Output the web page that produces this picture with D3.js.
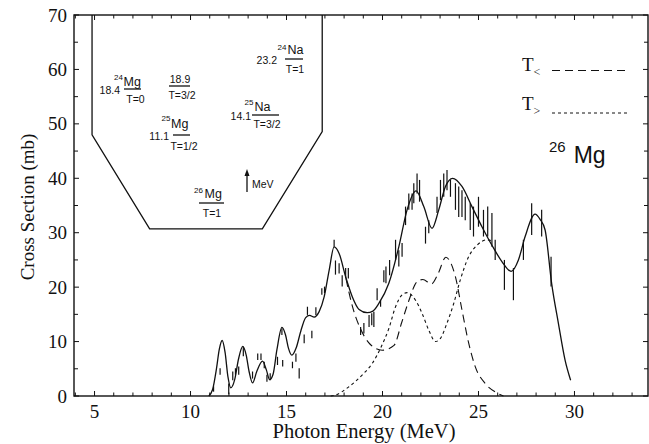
<!DOCTYPE html>
<html><head><meta charset="utf-8">
<script src="https://cdn.jsdelivr.net/npm/d3@7"></script>
<style>body{margin:0;background:#fff}svg{display:block}</style>
</head><body>
<script>
// ---------- data ----------
const xTicks = [5,10,15,20,25,30];
const yTicks = [0,10,20,30,40,50,60,70];
const xTitle = "Photon Energy (MeV)";
const yTitle = "Cross Section (mb)";

// total fit (solid)  [energy MeV, sigma mb]
const fitTotal = [[10.95,0],[11.15,1.2],[11.35,5],[11.5,8.6],[11.65,10.2],[11.8,8],[11.95,3.5],[12.1,1.5],[12.3,3],[12.5,6.8],[12.72,9.1],[12.9,7.5],[13.05,4.5],[13.23,2.4],[13.45,4.5],[13.75,6.4],[13.95,4.8],[14.12,3.0],[14.3,4.0],[14.5,8.5],[14.76,12.6],[14.95,11.2],[15.1,8.8],[15.28,7.5],[15.5,8.8],[15.75,12],[16.0,14.4],[16.2,14.8],[16.44,14.5],[16.7,15.5],[16.96,18.2],[17.22,23.1],[17.48,27.4],[17.74,26.2],[18.08,21.9],[18.43,18.2],[18.78,15.9],[19.2,15.3],[19.5,15.6],[19.81,17.0],[20.33,20.7],[20.85,27.4],[21.28,34.2],[21.75,37.7],[22.15,34.8],[22.58,30.8],[22.93,34.2],[23.28,38.5],[23.65,40.0],[24.14,38.5],[24.66,34.8],[25.18,31.1],[25.7,27.7],[26.22,24.7],[26.7,22.9],[27.08,25.0],[27.43,29.3],[27.95,33.4],[28.2,32.5],[28.47,30.5],[28.81,20.7],[29.16,13.4],[29.51,6.6],[29.8,2.9]];
// T< component (dashed)
const fitTLess = [[18.1,21.5],[18.43,16.5],[18.86,12.3],[19.33,9.6],[19.98,8.4],[20.6,9.3],[21.0,13.5],[21.37,17.5],[21.8,21.0],[22.1,21.4],[22.55,20.6],[22.9,22.5],[23.3,25.5],[23.55,24.5],[23.8,21.9],[24.14,15.8],[24.49,9.7],[24.83,5.4],[25.35,2.3],[25.95,0.6],[26.3,0]];
// T> component (dotted)
const fitTGreater = [[17.3,0],[17.56,0.2],[18.25,1.7],[18.95,3.9],[19.47,6.0],[19.9,8.8],[20.33,12.4],[20.68,16.4],[21.02,18.6],[21.28,19.0],[21.72,17.6],[22.06,15.2],[22.41,12.1],[22.76,10.0],[23.02,10.6],[23.36,13.4],[23.71,17.0],[24.05,21.3],[24.49,25.6],[24.92,27.7],[25.44,28.7],[25.78,28.4]];
// measured points: [energy, low, high]
const dataBars = [[11.2,0.8,1.8],[11.54,3.9,5.1],[11.99,0.3,2.3],[12.2,2.9,4.5],[12.34,3.9,5.1],[12.51,3.9,5.4],[12.75,7.3,9.0],[13.23,3.2,4.5],[13.5,6.6,7.8],[13.67,6.6,7.8],[13.84,5.1,6.3],[13.98,2.6,3.9],[14.15,2.9,4.2],[14.53,5.7,7.2],[14.76,11.2,12.4],[14.8,5.4,6.6],[15.31,5.1,6.3],[15.49,6.3,7.8],[15.66,3.2,5.1],[15.92,9.7,11.3],[16.09,14.9,16.4],[16.32,10.6,12.0],[16.53,14.9,16.3],[16.84,18.6,19.8],[16.98,18.9,20.1],[17.48,27.4,28.7],[17.55,22.3,24.9],[17.74,22.5,24.4],[17.9,20.1,22.2],[18.08,21.6,23.5],[18.22,21.6,23.5],[18.86,11.2,12.7],[19.03,11.5,13.4],[19.3,12.7,14.9],[19.44,13.0,15.2],[19.55,12.7,15.5],[19.72,17.6,19.8],[19.9,16.4,17.6],[20.07,20.9,23.1],[20.18,20.7,23.8],[20.37,22.2,25.0],[20.68,25.0,28.7],[20.85,23.8,26.8],[21.02,25.6,28.1],[21.2,31.4,34.8],[21.37,34.2,37.2],[21.54,34.2,37.2],[21.63,35.4,39.1],[21.8,37.2,40.9],[21.93,35.7,39.7],[22.24,28.0,31.1],[22.41,29.9,32.3],[22.84,33.6,36.6],[23.02,36.0,39.7],[23.19,36.6,40.9],[23.36,37.8,41.5],[23.54,36.6,39.7],[23.8,34.2,39.1],[23.97,32.9,38.5],[24.14,32.9,37.8],[24.31,32.3,36.6],[24.57,30.5,35.4],[24.74,29.3,34.8],[25.0,31.1,36.6],[25.26,29.3,34.2],[25.48,29.3,34.8],[25.7,27.4,33.6],[25.87,25.0,28.7],[26.35,19.5,25.0],[26.82,17.6,23.5],[27.34,25.0,28.7],[27.77,29.6,35.4],[28.29,29.3,34.2],[28.78,20.1,25.6]];
// inset outline in axis units [energy, mb]
const insetOutline = [[4.87,70],[4.87,48],[7.87,30.7],[13.74,30.7],[16.86,48.6],[16.86,70]];
// inset level labels
const levelValues = ["18.4","18.9","11.1","23.2","14.1",""];
const levelMass   = ["24","","25","24","25","26"];
const levelElem   = ["Mg","","Mg","Na","Na","Mg"];
const levelIso    = ["T=0","T=3/2","T=1/2","T=1","T=3/2","T=1"];
const legendLabels = ["<",">"];

// ---------- layout ----------
const W=649,H=444;
const x = d3.scaleLinear().domain([3.93,33.83]).range([74,648]);
const y = d3.scaleLinear().domain([0,70]).range([396,15]);
const svg = d3.select("body").append("svg").attr("width",W).attr("height",H);
const serif = "'Liberation Serif','Times New Roman',serif";
const sans = "'Liberation Sans',Arial,sans-serif";
const ink = "#111";

// frame
svg.append("rect").attr("x",x(3.93)).attr("y",y(70)).attr("width",x(33.83)-x(3.93)).attr("height",y(0)-y(70))
  .attr("fill","none").attr("stroke",ink).attr("stroke-width",1.4);

// ticks (inward)
const g = svg.append("g").attr("stroke",ink).attr("stroke-width",1);
d3.range(4,34).forEach(e=>{
  const L = e%5===0?5:3.5;
  g.append("line").attr("x1",x(e)).attr("x2",x(e)).attr("y1",y(0)).attr("y2",y(0)-L);
  g.append("line").attr("x1",x(e)).attr("x2",x(e)).attr("y1",y(70)).attr("y2",y(70)+L);
});
d3.range(0,71,5).forEach(v=>{
  const L = v%10===0?5:4;
  g.append("line").attr("x1",x(3.93)).attr("x2",x(3.93)+L).attr("y1",y(v)).attr("y2",y(v));
  g.append("line").attr("x1",x(33.83)).attr("x2",x(33.83)-L).attr("y1",y(v)).attr("y2",y(v));
});

// tick labels
svg.append("g").selectAll("text").data(xTicks).join("text")
  .attr("x",d=>x(d)).attr("y",y(0)+22).attr("text-anchor","middle")
  .attr("font-family",serif).attr("font-size",19).attr("fill",ink).text(d=>d);
svg.append("g").selectAll("text").data(yTicks).join("text")
  .attr("x",x(3.93)-7).attr("y",d=>y(d)+6.5).attr("text-anchor","end")
  .attr("font-family",serif).attr("font-size",19).attr("fill",ink).text(d=>d);

// titles
svg.append("text").attr("x",364).attr("y",438).attr("text-anchor","middle")
  .attr("font-family",serif).attr("font-size",20.5).attr("fill",ink).text(xTitle);
svg.append("text").attr("transform","translate(34,207) rotate(-90)").attr("text-anchor","middle")
  .attr("font-family",serif).attr("font-size",19).attr("fill",ink).text(yTitle);

// curves
const line = d3.line().x(d=>x(d[0])).y(d=>y(d[1])).curve(d3.curveMonotoneX);
svg.append("path").attr("d",line(fitTotal)).attr("fill","none").attr("stroke",ink).attr("stroke-width",1.3);
svg.append("path").attr("d",line(fitTLess)).attr("fill","none").attr("stroke",ink).attr("stroke-width",1.1).attr("stroke-dasharray","8,5");
svg.append("path").attr("d",line(fitTGreater)).attr("fill","none").attr("stroke",ink).attr("stroke-width",1.1).attr("stroke-dasharray","3,3");

// error bars
svg.append("g").selectAll("line").data(dataBars).join("line")
  .attr("x1",d=>x(d[0])).attr("x2",d=>x(d[0])).attr("y1",d=>y(d[1])).attr("y2",d=>y(d[2]))
  .attr("stroke",ink).attr("stroke-width",1.2);

// inset outline
svg.append("path").attr("d",d3.line().x(d=>x(d[0])).y(d=>y(d[1]))(insetOutline))
  .attr("fill","none").attr("stroke",ink).attr("stroke-width",1.3);

// inset levels layout: line [x1,x2,y], value [x,y,anchor], mass [x,y], elem [x,y], iso [x,y]
const lvLayout = [
  {ln:[124,141,89], v:[120,94,"end"], m:[114,80], e:[123.5,86], t:[135.5,103]},
  {ln:[169,190,86], v:[180,83,"middle"], m:null, e:null, t:[182,99]},
  {ln:[173,190,135], v:[169,140,"end"], m:[161.5,121], e:[171,128], t:[184,150]},
  {ln:[285,303,59], v:[277,64,"end"], m:[277.5,50], e:[287.5,54], t:[295,73]},
  {ln:[252,279,115], v:[251,120,"end"], m:[244.5,105], e:[254.5,111], t:[267,128]},
  {ln:[199,224,203], v:null, m:[194,193], e:[204.5,198], t:[212,217]}
];
const ig = svg.append("g").attr("font-family",sans).attr("fill",ink);
lvLayout.forEach((L,i)=>{
  ig.append("line").attr("x1",L.ln[0]).attr("x2",L.ln[1]).attr("y1",L.ln[2]).attr("y2",L.ln[2]).attr("stroke",ink).attr("stroke-width",1.3);
  if(L.v && levelValues[i]) ig.append("text").attr("x",L.v[0]).attr("y",L.v[1]).attr("text-anchor",L.v[2]).attr("font-size",10.5).text(levelValues[i]);
  if(L.m && levelMass[i]) ig.append("text").attr("x",L.m[0]).attr("y",L.m[1]).attr("font-size",8).text(levelMass[i]);
  if(L.e && levelElem[i]) ig.append("text").attr("x",L.e[0]).attr("y",L.e[1]).attr("font-size",12.5).text(levelElem[i]);
  ig.append("text").attr("x",L.t[0]).attr("y",L.t[1]).attr("text-anchor","middle").attr("font-size",10.5).text(levelIso[i]);
});
// MeV arrow
ig.append("line").attr("x1",247).attr("x2",247).attr("y1",192).attr("y2",173).attr("stroke",ink).attr("stroke-width",1.3);
ig.append("path").attr("d","M247,169 L244.5,176 L249.5,176 Z").attr("fill",ink);
ig.append("text").attr("x",252).attr("y",188).attr("font-size",10.5).text("MeV");

// legend
const lg = svg.append("g").attr("fill",ink);
[[70.5,"8,5"],[113,"3,3"]].forEach((r,i)=>{
  const t = lg.append("text").attr("x",522).attr("y",r[0]+(i===0?0:-3)).attr("font-family",serif).attr("font-size",19);
  t.append("tspan").text("T");
  t.append("tspan").attr("font-size",12).attr("dy",5).text(legendLabels[i]);
  lg.append("line").attr("x1",552).attr("x2",628).attr("y1",r[0]).attr("y2",r[0])
    .attr("stroke",ink).attr("stroke-width",1).attr("stroke-dasharray",r[1]);
});
const mg = lg.append("text").attr("x",549).attr("y",163).attr("font-family",sans);
mg.append("tspan").attr("font-size",15).attr("dy",-11).text("26");
mg.append("tspan").attr("font-size",23).attr("dy",11).attr("dx",8).text("Mg");
</script>
</body></html>
